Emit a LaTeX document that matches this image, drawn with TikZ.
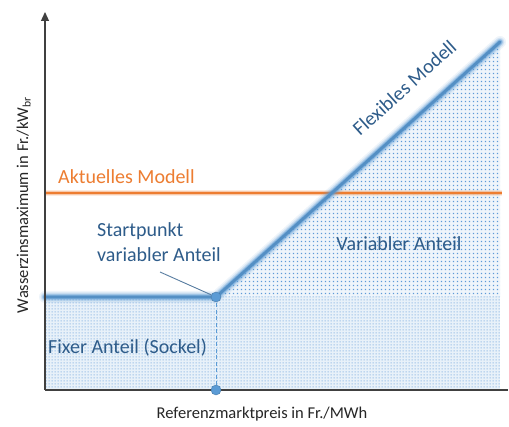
\documentclass[tikz,border=0pt]{standalone}
\usepackage{fontspec}
\setmainfont{Carlito}
\usetikzlibrary{patterns,patterns.meta,arrows.meta}
\definecolor{lineblue}{HTML}{5B9BD5}
\definecolor{txtblue}{HTML}{2E5C8A}
\definecolor{orng}{HTML}{ED7D31}
\definecolor{axisgray}{HTML}{404040}
\definecolor{dotblue}{HTML}{5E9AD8}
\tikzset{
  glowline/.style={line cap=round, line join=round},
  pt/.style={circle, fill=lineblue, draw=lineblue!80!black, line width=0.4pt, inner sep=0pt, minimum size=10pt},
  lbl/.style={font=\fontsize{20}{23}\selectfont, text=txtblue, inner sep=0pt},
  axlbl/.style={font=\fontsize{16.5}{19}\selectfont, text=black!85, inner sep=0pt},
}
\pgfdeclarepattern{
  name=sparsedots, parameters={}, bottom left={\pgfpoint{0pt}{0pt}}, top right={\pgfpoint{4pt}{4pt}},
  tile size={\pgfpoint{4pt}{4pt}}, tile transformation={}, code={
    \pgfpathrectangle{\pgfpoint{1pt}{1pt}}{\pgfpoint{1.8pt}{1.8pt}}\pgfusepath{fill}
  }}
\pgfdeclarepattern{
  name=densedots, parameters={}, bottom left={\pgfpoint{0pt}{0pt}}, top right={\pgfpoint{3pt}{3pt}},
  tile size={\pgfpoint{3pt}{3pt}}, tile transformation={}, code={
    \pgfpathrectangle{\pgfpoint{0.7pt}{0.7pt}}{\pgfpoint{1.5pt}{1.5pt}}\pgfusepath{fill}
  }}
\begin{document}
\begin{tikzpicture}[x=1pt,y=-1pt]
\useasboundingbox[fill=white] (0,0) rectangle (509,427);
% coordinates
\coordinate (O) at (45,390);
\coordinate (ytop) at (45,12);
\coordinate (xend) at (508,390);
\coordinate (L) at (45,297);
\coordinate (S) at (216,297);
\coordinate (E) at (500,42);
\coordinate (Er) at (500,297);
\coordinate (Eb) at (500,390);
\coordinate (So) at (216,390);
% regions
\fill[lineblue!10] (S) -- (E) -- (Er) -- cycle;
\fill[pattern=sparsedots, pattern color=dotblue] (S) -- (E) -- (Er) -- cycle;
\fill[lineblue!14] (L) rectangle (Eb);
\fill[pattern=densedots, pattern color=dotblue!75] (L) rectangle (Eb);
% orange line
\draw[orng, line width=6pt, opacity=0.15] (45,193) -- (502,193);
\draw[orng, line width=3.5pt, opacity=0.3] (45,193) -- (502,193);
\draw[orng, line width=2pt] (45,193) -- (502,193);
% blue flexible line with glow
\foreach \w/\o in {12/0.1, 9/0.18, 6.5/0.3, 4.5/0.5} {
  \draw[glowline, lineblue, line width=\w pt, opacity=\o] (L) -- (S) -- (E);
}
\draw[glowline, lineblue!92!black, line width=2.8pt] (L) -- (S) -- (E);
% dashed drop line
\draw[lineblue, line width=0.8pt, dash pattern=on 4pt off 2.5pt] (S) -- (So);
% axes
\draw[axisgray, line width=1.3pt] (O) -- (xend);
\draw[axisgray, line width=1.3pt, -{Triangle[length=9pt,width=8pt]}] (O) -- (ytop);
% points
\node[pt] (sp) at (S) {};
\node[pt] (sb) at (So) {};
% labels
\node[lbl, text=orng, anchor=base west] (akt) at (58,184) {Aktuelles Modell};
\node[lbl, anchor=base west] (start) at (97,237) {Startpunkt};
\node[lbl, anchor=base west] (start2) at (97,262) {variabler Anteil};
\coordinate (cl) at (160,272);
\draw[txtblue!80, line width=0.9pt] (cl) -- (sp);
\node[lbl, anchor=base west] (fix) at (48,354) {Fixer Anteil (Sockel)};
\node[lbl, anchor=base] (var) at (399,251) {Variabler Anteil};
\node[lbl, rotate=42, anchor=base] (flex) at (409,93) {Flexibles Modell};
\node[axlbl, anchor=base] (xl) at (262,419) {Referenzmarktpreis in Fr./MWh};
\node[axlbl, rotate=90, anchor=base] (yl) at (28,205) {Wasserzinsmaximum in Fr./kW\textsubscript{br}};
\end{tikzpicture}
\end{document}
